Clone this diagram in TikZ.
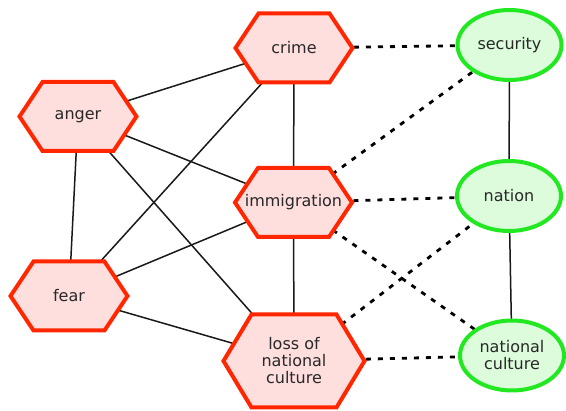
\documentclass[tikz,border=0pt]{standalone}
\usepackage{fontspec}
\setmainfont{DejaVu Sans}
\usetikzlibrary{shapes.geometric}

\definecolor{hexred}{RGB}{255,38,0}
\definecolor{hexfill}{RGB}{255,222,222}
\definecolor{ovalgreen}{RGB}{34,232,34}
\definecolor{ovalfill}{RGB}{220,252,220}
\definecolor{ink}{RGB}{40,40,40}

\pgfdeclarelayer{edges}
\pgfdeclarelayer{shapes}
\pgfsetlayers{edges,shapes,main}

\tikzset{
  concept/.style={inner sep=0pt, outer sep=0pt, align=center, text=ink,
    font=\fontsize{16}{17}\selectfont},
  hexbox/.style={concept, minimum width=117pt, minimum height=69pt},
  bighexbox/.style={concept, minimum width=141pt, minimum height=93pt},
  hexline/.style={draw=hexred, fill=hexfill, line width=4pt, line join=miter},
  oval/.style={concept, ellipse, draw=ovalgreen, fill=ovalfill, line width=4pt,
    minimum width=104pt, minimum height=70pt},
  link/.style={draw=black!90, line width=1.5pt},
  assoc/.style={draw=black, line width=2.8pt, dash pattern=on 5pt off 7pt}
}

% hexagon outline around a rectangular node; #2 is how far the flat
% top and bottom edges are set in from the pointed ends
\newcommand\hexoutline[2]{%
  \begin{pgfonlayer}{shapes}
    \path[hexline] (#1.west) -- ([xshift=#2]#1.north west)
      -- ([xshift=-#2]#1.north east) -- (#1.east)
      -- ([xshift=-#2]#1.south east) -- ([xshift=#2]#1.south west) -- cycle;
  \end{pgfonlayer}}

\begin{document}
\begin{tikzpicture}[x=1pt, y=-1pt]
  \useasboundingbox (0,0) rectangle (566,411);

  % emotions and issues
  \node[hexbox] (crime) at (294,48) {crime};
  \node[hexbox] (anger) at (78,116.5) {anger};
  \node[hexbox] (immigration) at (293.5,202.5) {immigration};
  \node[hexbox] (fear) at (69,296) {fear};
  \node[bighexbox] (loss) at (294,361) {loss of\\national\\culture};
  \hexoutline{crime}{23pt}
  \hexoutline{anger}{23pt}
  \hexoutline{immigration}{23pt}
  \hexoutline{fear}{23pt}
  \hexoutline{loss}{28pt}

  % values
  \node[oval] (security) at (509.5,45) {security};
  \node[oval] (nation) at (509,196) {nation};
  \node[oval] (culture) at (512,355.5) {national\\culture};

  \begin{pgfonlayer}{edges}
    \draw[link] (anger.center) -- (crime.center);
    \draw[link] (anger.center) -- (immigration.center);
    \draw[link] (anger.center) -- (fear.center);
    \draw[link] (anger.center) -- (loss.center);
    \draw[link] (crime.center) -- (immigration.center);
    \draw[link] (crime.center) -- (fear.center);
    \draw[link] (immigration.center) -- (fear.center);
    \draw[link] (immigration.center) -- (loss.center);
    \draw[link] (fear.center) -- (loss.center);
    \draw[link] (security.center) -- (nation.center);
    \draw[link] (nation.center) -- (culture.center);

    \draw[assoc] (crime.center) -- (security.center);
    \draw[assoc] (immigration.center) -- (security.center);
    \draw[assoc] (immigration.center) -- (nation.center);
    \draw[assoc] (immigration.center) -- (culture.center);
    \draw[assoc] (loss.center) -- (nation.center);
    \draw[assoc] (loss.center) -- (culture.center);
  \end{pgfonlayer}
\end{tikzpicture}
\end{document}
